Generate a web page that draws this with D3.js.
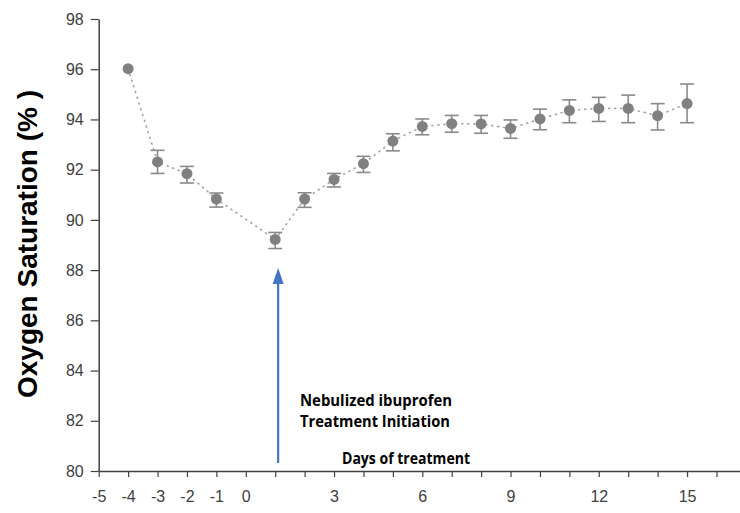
<!DOCTYPE html>
<html><head><meta charset="utf-8">
<script src="https://cdn.jsdelivr.net/npm/d3@7"></script>
<style>body{margin:0;background:#fff}</style>
</head><body>
<svg id="c" width="740" height="513"></svg>
<script>
const days = [-4,-3,-2,-1,1,2,3,4,5,6,7,8,9,10,11,12,13,14,15];
const means = [96.02,92.31,91.84,90.83,89.22,90.83,91.61,92.24,93.14,93.72,93.83,93.82,93.64,94.02,94.36,94.44,94.44,94.15,94.63];
const lower = [96.02,91.85,91.47,90.51,88.86,90.5,91.31,91.89,92.75,93.39,93.49,93.45,93.25,93.59,93.87,93.92,93.87,93.58,93.87];
const upper = [96.02,92.77,92.13,91.07,89.5,91.08,91.85,92.53,93.43,94.02,94.16,94.16,93.98,94.41,94.78,94.88,94.97,94.63,95.41];
const yTicks = [80,82,84,86,88,90,92,94,96,98];
const xTicks = d3.range(-5,17);
const xLabels = [-5,-4,-3,-2,-1,0,3,6,9,12,15];
const arrowDay = 1.1;

const svg = d3.select("#c");
const x = d3.scaleLinear().domain([-5,16.8]).range([98.7,740]);
const y = d3.scaleLinear().domain([80,98]).range([471,19]);
const axisColor = "#404040";

// y axis
const yAxis = svg.append("g").attr("transform","translate(98.7,0)")
  .call(d3.axisLeft(y).tickValues(yTicks).tickSize(8).tickPadding(7).tickSizeOuter(0));
yAxis.select(".domain").attr("stroke",axisColor).attr("stroke-width",1.5);
yAxis.selectAll(".tick line").attr("stroke",axisColor).attr("stroke-width",1.2);
yAxis.selectAll(".tick text").attr("fill","#404040").style("font-family","Liberation Sans, Arial, sans-serif").style("font-size","16px");

// x axis
const xAxis = svg.append("g").attr("transform","translate(0,471)")
  .call(d3.axisBottom(x).tickValues(xTicks).tickSize(6).tickPadding(14).tickSizeOuter(0)
    .tickFormat(d => xLabels.includes(d) ? String(d) : ""));
xAxis.select(".domain").attr("stroke",axisColor).attr("stroke-width",1.5);
xAxis.selectAll(".tick line").attr("stroke",axisColor).attr("stroke-width",1.2);
xAxis.selectAll(".tick text").attr("fill","#404040").style("font-family","Liberation Sans, Arial, sans-serif").style("font-size","16px");

// y title
svg.append("text").attr("transform","translate(37,244) rotate(-90)")
  .attr("text-anchor","middle").attr("fill","#000")
  .style("font-family","Liberation Sans, Arial, sans-serif").style("font-weight","bold").style("font-size","28px")
  .text("Oxygen Saturation (% )");

// dotted connecting line
const line = d3.line().x((d,i)=>x(days[i])).y(d=>y(d));
svg.append("path").datum(means).attr("d",line).attr("fill","none")
  .attr("stroke","#a0a0a0").attr("stroke-width",1.6).attr("stroke-dasharray","1,5").attr("stroke-linecap","round");

// error bars
const eb = svg.append("g").attr("stroke","#8a8a8a").attr("stroke-width",1.6);
days.forEach((d,i)=>{
  if (upper[i]-lower[i] < 0.05) return;
  eb.append("line").attr("x1",x(d)).attr("x2",x(d)).attr("y1",y(lower[i])).attr("y2",y(upper[i]));
  eb.append("line").attr("x1",x(d)-7).attr("x2",x(d)+7).attr("y1",y(lower[i])).attr("y2",y(lower[i]));
  eb.append("line").attr("x1",x(d)-7).attr("x2",x(d)+7).attr("y1",y(upper[i])).attr("y2",y(upper[i]));
});

// points
svg.append("g").selectAll("circle").data(means).join("circle")
  .attr("cx",(d,i)=>x(days[i])).attr("cy",d=>y(d)).attr("r",5.5).attr("fill","#808080");

// arrow
const ax = x(arrowDay);
svg.append("line").attr("x1",ax).attr("x2",ax).attr("y1",463).attr("y2",282)
  .attr("stroke","#4472C4").attr("stroke-width",2.2);
svg.append("path").attr("d",`M${ax},268 L${ax-5.5},284 L${ax+5.5},284 Z`).attr("fill","#4472C4");

// annotations
const ann = svg.append("g").style("font-family","Open Sans, Liberation Sans, sans-serif").style("font-weight","bold").attr("fill","#000");
ann.append("text").attr("x",300).attr("y",406).style("font-size","16px").attr("textLength",152).attr("lengthAdjust","spacingAndGlyphs").text("Nebulized ibuprofen");
ann.append("text").attr("x",300).attr("y",427).style("font-size","16px").attr("textLength",150).attr("lengthAdjust","spacingAndGlyphs").text("Treatment Initiation");
ann.append("text").attr("x",342).attr("y",464).style("font-size","16px").attr("textLength",128).attr("lengthAdjust","spacingAndGlyphs").text("Days of treatment");
</script>
</body></html>
